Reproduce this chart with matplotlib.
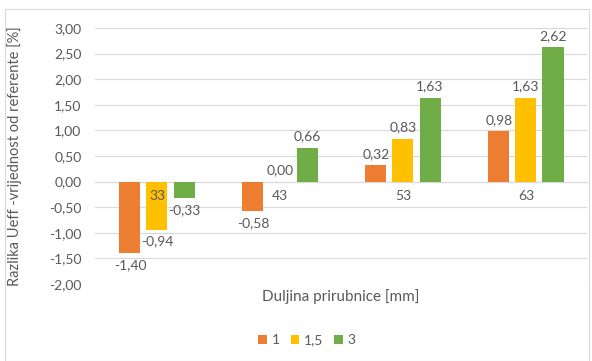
import numpy as np
import matplotlib.pyplot as plt
from matplotlib.patches import Rectangle

plt.rcParams['font.family'] = ['Lato', 'DejaVu Sans']

categories = ['33', '43', '53', '63']
series_names = ['1', '1,5', '3']
s1 = [-1.40, -0.58, 0.32, 0.98]
s15 = [-0.94, 0.00, 0.83, 1.63]
s3 = [-0.33, 0.66, 1.63, 2.62]
colors = ['#ED7D31', '#FFC000', '#70AD47']
text_col = '#595959'
grid_col = '#D9D9D9'

fig = plt.figure(figsize=(5.92, 3.61), dpi=100)
fig.patches.append(Rectangle((5 / 592, 0.0), 0.995 - 5 / 592, 1 - 9 / 361,
                             transform=fig.transFigure, fill=False,
                             edgecolor='#D9D9D9', linewidth=0.8))
ax = fig.add_axes([0.1613, 0.2133, 0.831, 0.7091])

x = np.arange(len(categories))
width = 0.171
step = 0.22
for i, (vals, name) in enumerate(zip([s1, s15, s3], series_names)):
    pos = x + (i - 1) * step
    bars = ax.bar(pos, vals, width, color=colors[i], label=name, zorder=2)
    for b, v in zip(bars, vals):
        off = 4 if v >= 0 else -4
        ax.annotate(f'{v:.2f}'.replace('.', ','), (b.get_x() + b.get_width() / 2, v),
                    xytext=(0, off), textcoords='offset points',
                    ha='center', va='bottom' if v >= 0 else 'top',
                    fontsize=10, color=text_col, zorder=5)

ax.set_xlim(-0.5, len(categories) - 0.5)
ax.set_ylim(-2.0, 3.0)
yt = np.arange(-2.0, 3.01, 0.5)
ax.set_yticks(yt)
ax.set_yticklabels([f'{v:.2f}'.replace('.', ',') for v in yt], fontsize=10)
ax.set_xticks(x)
ax.set_xticklabels(categories, fontsize=10)
ax.tick_params(length=0, pad=6, labelcolor=text_col)
ax.tick_params(axis='y', pad=10)
ax.grid(axis='y', color=grid_col, linewidth=0.8)
ax.yaxis.set_zorder(0.5)
ax.xaxis.set_zorder(4)
for s in ['top', 'right', 'left']:
    ax.spines[s].set_visible(False)
ax.spines['bottom'].set_position(('data', 0))
ax.spines['bottom'].set_color(grid_col)
ax.spines['bottom'].set_zorder(1)

ax.set_ylabel('Razlika Ueff -vrijednost od referente [%]', color=text_col, fontsize=10.5)
ax.yaxis.set_label_coords(-0.15, 0.5)
fig.text(341 / 592, 1 - 297 / 361, 'Duljina prirubnice [mm]', ha='center', va='center',
         color=text_col, fontsize=11)

fig.legend(loc='center', bbox_to_anchor=(307 / 592, 1 - 340 / 361), ncol=3, frameon=False,
           fontsize=10, handlelength=0.6, handleheight=0.6, handletextpad=0.35,
           columnspacing=0.8, labelcolor=text_col)

fig.savefig('out.png', dpi=100)
